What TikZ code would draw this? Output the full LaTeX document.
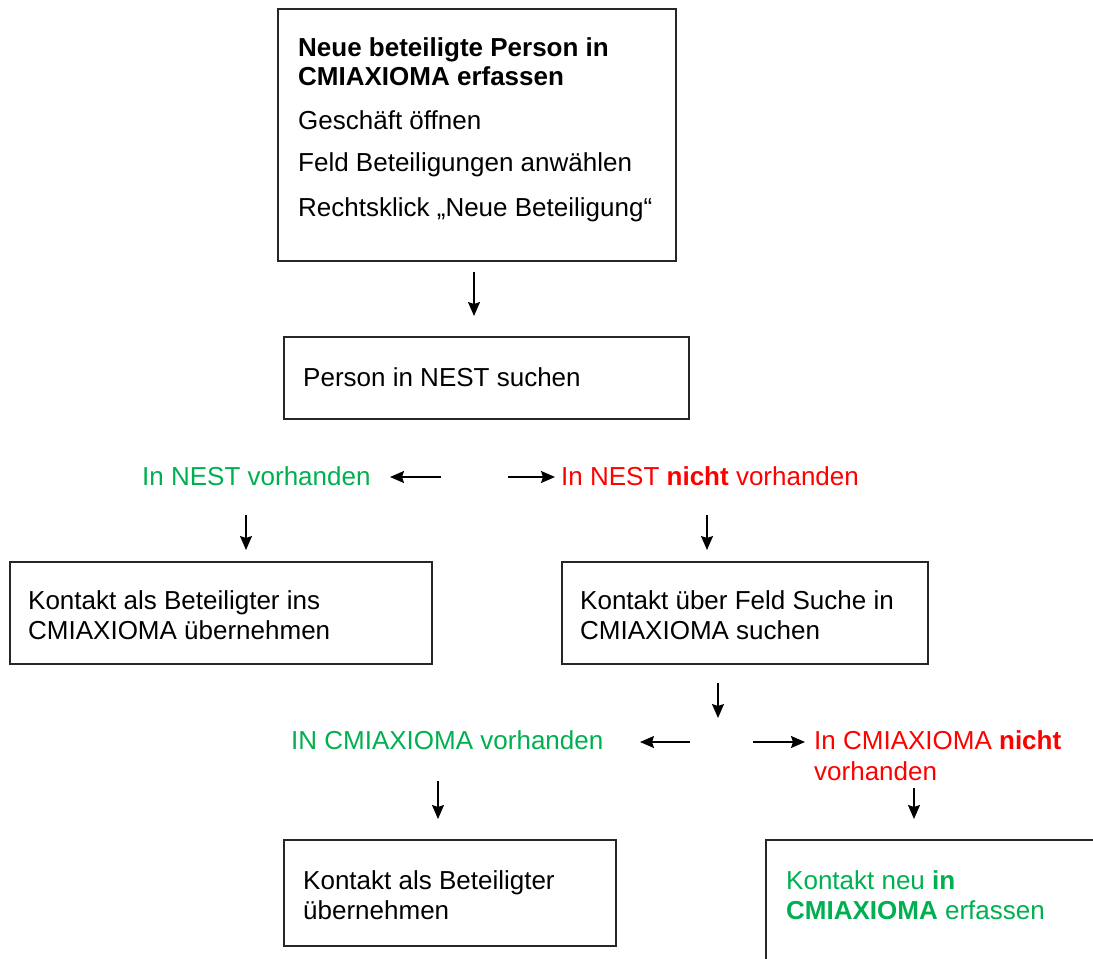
\documentclass[tikz,border=0pt]{standalone}
\usepackage{fontspec}
\setmainfont{Liberation Sans}
\usetikzlibrary{arrows.meta}
\definecolor{okgreen}{RGB}{0,176,80}
\definecolor{nored}{RGB}{255,0,0}
\begin{document}
\begin{tikzpicture}[x=1pt,y=-1pt,
  box/.style={draw=black!85,line width=1.5pt},
  txt/.style={anchor=base west,inner sep=0pt,font=\fontsize{26}{30}\selectfont},
  arr/.style={line width=1.6pt,-{Stealth[length=14pt,width=12pt,inset=2pt]}}]
\clip (0,0) rectangle (1093,959);
% boxes
\draw[box] (278,9) rectangle (676,261);
\draw[box] (284,337) rectangle (689,419);
\draw[box] (10,562) rectangle (432,664);
\draw[box] (562,562) rectangle (928,664);
\draw[box] (284,840) rectangle (616,946);
\draw[box] (766,840) rectangle (1110,980);
% texts
\node[txt] (t1a) at (298,56) {\bfseries Neue beteiligte Person in};
\node[txt] (t1b) at (298,85) {\bfseries CMIAXIOMA erfassen};
\node[txt] (t1c) at (298,129) {Geschäft öffnen};
\node[txt] (t1d) at (298,171) {Feld Beteiligungen anwählen};
\node[txt] (t1e) at (298,216) {Rechtsklick „Neue Beteiligung“};
\node[txt] (t2) at (303,386) {Person in NEST suchen};
\node[txt,text=okgreen] (g1) at (142,485) {In NEST vorhanden};
\node[txt,text=nored] (r1) at (561,485) {In NEST \textbf{nicht} vorhanden};
\node[txt] (t3a) at (28,609) {Kontakt als Beteiligter ins};
\node[txt] (t3b) at (28,639) {CMIAXIOMA übernehmen};
\node[txt] (t4a) at (580,609) {Kontakt über Feld Suche in};
\node[txt] (t4b) at (580,639) {CMIAXIOMA suchen};
\node[txt,text=okgreen] (g2) at (291,749) {IN CMIAXIOMA vorhanden};
\node[txt,text=nored] (r2a) at (814,749) {In CMIAXIOMA \textbf{nicht}};
\node[txt,text=nored] (r2b) at (814,780) {vorhanden};
\node[txt] (t5a) at (303,889) {Kontakt als Beteiligter};
\node[txt] (t5b) at (303,919) {übernehmen};
\node[txt,text=okgreen] (t6a) at (786,889) {Kontakt neu \textbf{in}};
\node[txt,text=okgreen] (t6b) at (786,919) {\textbf{CMIAXIOMA} erfassen};
% arrows (free-standing, as in the reference)
\coordinate (a1s) at (474,272); \coordinate (a1e) at (474,316);
\coordinate (a2s) at (441,477); \coordinate (a2e) at (390,477);
\coordinate (a3s) at (508,477); \coordinate (a3e) at (555,477);
\coordinate (a4s) at (246,515); \coordinate (a4e) at (246,550);
\coordinate (a5s) at (707,515); \coordinate (a5e) at (707,550);
\coordinate (a6s) at (718,683); \coordinate (a6e) at (718,718);
\coordinate (a7s) at (690,742); \coordinate (a7e) at (640,742);
\coordinate (a8s) at (753,742); \coordinate (a8e) at (805,742);
\coordinate (a9s) at (438,781); \coordinate (a9e) at (438,819);
\coordinate (a10s) at (914,788); \coordinate (a10e) at (914,819);
\foreach \i in {1,...,10} {\draw[arr] (a\i s) -- (a\i e);}
\end{tikzpicture}
\end{document}
